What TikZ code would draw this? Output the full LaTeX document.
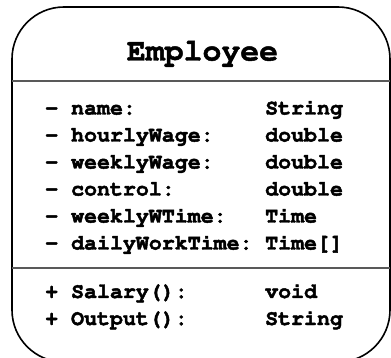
\documentclass[tikz,border=0pt]{standalone}
\usepackage[T1]{fontenc}
% slightly heavier glyphs: fill and stroke the text outlines
\newcommand{\heavytext}[1]{\special{pdf:literal direct 2 Tr 0.45 w}#1\special{pdf:literal direct 0 Tr}}
\begin{document}
\begin{tikzpicture}[x=1pt,y=-1pt,
  classbox/.style={draw=black,line width=1.6pt,rounded corners=52pt},
  divider/.style={draw=black!65,line width=1.4pt},
  titletext/.style={inner sep=0pt,anchor=base,font=\fontfamily{pcr}\fontseries{b}\fontsize{31.5}{36}\selectfont},
  membertext/.style={inner sep=0pt,anchor=base west,font=\fontfamily{pcr}\fontseries{b}\fontsize{21.6}{26}\selectfont}]
\useasboundingbox (0,0) rectangle (391,358);
% class outline and compartment dividers
\draw[classbox] (12,7) rectangle (390,362);
\draw[divider] (12,81) -- (390,81);
\draw[divider] (12,268) -- (390,268);
% class name
\node[titletext] (title) at (202.5,60.5) {\heavytext{Employee}};
% attributes
\def\colA{45}
\def\colB{265}
\node[membertext] (a1) at (\colA,114.5) {\heavytext{- name:}};
\node[membertext] (t1) at (\colB,114.5) {\heavytext{String}};
\node[membertext] (a2) at (\colA,141.5) {\heavytext{- hourlyWage:}};
\node[membertext] (t2) at (\colB,141.5) {\heavytext{double}};
\node[membertext] (a3) at (\colA,168.5) {\heavytext{- weeklyWage:}};
\node[membertext] (t3) at (\colB,168.5) {\heavytext{double}};
\node[membertext] (a4) at (\colA,195.5) {\heavytext{- control:}};
\node[membertext] (t4) at (\colB,195.5) {\heavytext{double}};
\node[membertext] (a5) at (\colA,222.5) {\heavytext{- weeklyWTime:}};
\node[membertext] (t5) at (\colB,222.5) {\heavytext{Time}};
\node[membertext] (a6) at (\colA,249.5) {\heavytext{- dailyWorkTime:}};
\node[membertext] (t6) at (\colB,249.5) {\heavytext{Time[]}};
% operations
\node[membertext] (m1) at (\colA,298) {\heavytext{+ Salary():}};
\node[membertext] (r1) at (\colB,298) {\heavytext{void}};
\node[membertext] (m2) at (\colA,325) {\heavytext{+ Output():}};
\node[membertext] (r2) at (\colB,325) {\heavytext{String}};
\end{tikzpicture}
\end{document}
